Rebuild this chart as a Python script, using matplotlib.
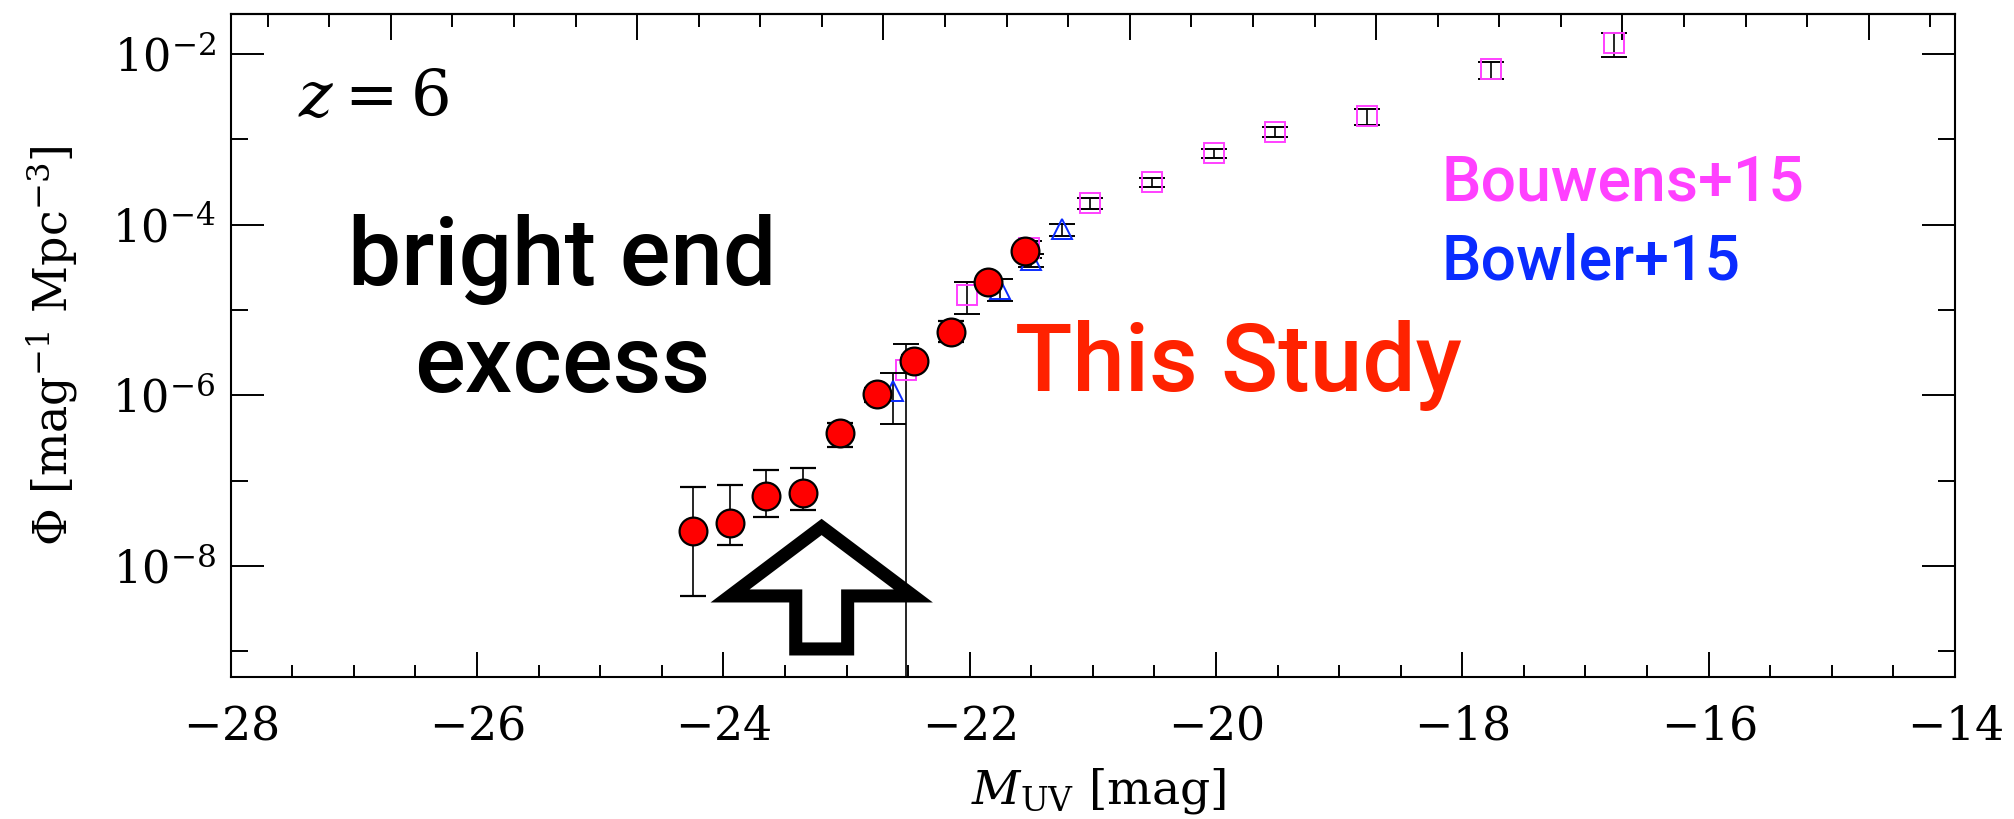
import matplotlib.pyplot as plt
from matplotlib.ticker import FixedLocator, MultipleLocator, NullFormatter
from matplotlib.patches import Polygon

plt.rcParams['font.family'] = 'DejaVu Serif'
plt.rcParams['mathtext.fontset'] = 'dejavuserif'

# UV luminosity function at z=6
study_mag = [-24.25, -23.95, -23.65, -23.35, -23.05, -22.75, -22.45, -22.15, -21.85, -21.55]
study_phi = [2.57e-8, 3.2e-8, 6.6e-8, 7.1e-8, 3.57e-7, 1.03e-6, 2.54e-6, 5.56e-6, 2.14e-5, 4.94e-5]
study_err_lo = [2.13e-8, 1.45e-8, 2.85e-8, 2.57e-8, 1.1e-7, 2.0e-7, 4.0e-7, 1.32e-6, 2.0e-6, 5.0e-6]
study_err_hi = [5.75e-8, 5.65e-8, 6.7e-8, 6.9e-8, 1.1e-7, 2.0e-7, 4.0e-7, 1.9e-6, 2.0e-6, 5.0e-6]

bouwens_mag = [-22.52, -22.02, -21.52, -21.02, -20.52, -20.02, -19.52, -18.77, -17.77, -16.77]
bouwens_phi = [2.0e-6, 1.5e-5, 5.3e-5, 1.78e-4, 3.16e-4, 6.85e-4, 1.23e-3, 1.87e-3, 6.6e-3, 1.35e-2]
bouwens_err = [2.0e-6, 6.0e-6, 1.2e-5, 2.5e-5, 3.9e-5, 8.5e-5, 1.5e-4, 4.0e-4, 1.5e-3, 4.3e-3]

bowler_mag = [-22.625, -21.75, -21.5, -21.25]
bowler_phi = [1.13e-6, 1.78e-5, 3.85e-5, 8.8e-5]
bowler_err = [6.7e-7, 5.0e-6, 6.4e-6, 1.4e-5]

# apparent magnitude offset for the top axis
DM = 46.7

fig = plt.figure(figsize=(20.15, 8.19), dpi=100)
ax = fig.add_axes([0.1145, 0.1738, 0.8557, 0.8091])

ax.errorbar(bouwens_mag, bouwens_phi, yerr=[bouwens_err, bouwens_err], fmt='s', ms=14,
            mfc='none', mec='#FF40FF', mew=1.4, ecolor='black', elinewidth=1.2,
            capsize=9.5, capthick=1.2, zorder=3)
ax.errorbar(bowler_mag, bowler_phi, yerr=[bowler_err, bowler_err], fmt='^', ms=14,
            mfc='none', mec='#0A2BFF', mew=1.4, ecolor='black', elinewidth=1.2,
            capsize=9.5, capthick=1.2, zorder=4)
ax.errorbar(study_mag, study_phi, yerr=[study_err_lo, study_err_hi], fmt='o', ms=20,
            mfc='red', mec='black', mew=1.6, ecolor='black', elinewidth=1.2,
            capsize=9.5, capthick=1.2, zorder=5)

ax.set_yscale('log')
ax.set_xlim(-28, -14)
ax.set_ylim(10**-9.30, 10**-1.53)

ax.xaxis.set_major_locator(MultipleLocator(2))
ax.xaxis.set_minor_locator(MultipleLocator(0.5))
ax.yaxis.set_major_locator(FixedLocator([1e-8, 1e-6, 1e-4, 1e-2]))
ax.yaxis.set_minor_locator(FixedLocator([1e-9, 1e-7, 1e-5, 1e-3]))
ax.yaxis.set_minor_formatter(NullFormatter())
ax.xaxis.set_major_formatter(plt.FuncFormatter(lambda v, p: '$-%d$' % abs(v)))

ax.tick_params(axis='x', which='both', direction='in', top=False, width=1.4, labelsize=33, pad=20)
ax.tick_params(axis='x', which='major', length=18)
ax.tick_params(axis='x', which='minor', length=8.6)
ax.tick_params(axis='y', which='both', direction='in', right=True, width=1.4, labelsize=32, pad=11)
ax.tick_params(axis='y', which='major', length=24)
ax.tick_params(axis='y', which='minor', length=12)
for s in ax.spines.values():
    s.set_linewidth(1.5)

top = ax.secondary_xaxis('top', functions=(lambda m: m + DM, lambda m: m - DM))
top.xaxis.set_major_locator(MultipleLocator(2))
top.xaxis.set_minor_locator(MultipleLocator(0.5))
top.tick_params(which='both', direction='in', width=1.4, labeltop=False)
top.tick_params(which='major', length=19)
top.tick_params(which='minor', length=9)
top.spines['top'].set_linewidth(1.5)

fig.text(0.5454, 0.034, r'$M_{\rm UV}$ [mag]', ha='center', va='center', fontsize=34)
fig.text(0.026, 0.578, r'$\Phi$ [mag$^{-1}$ Mpc$^{-3}$]', ha='center', va='center',
         rotation=90, fontsize=33)

# annotations
ax.text(0.039, 0.846, r'$z = 6$', transform=ax.transAxes, fontsize=46, va='baseline')
sans = 'Roboto'
ax.text(0.192, 0.591, 'bright end', transform=ax.transAxes, fontsize=68, family=sans,
        weight='medium', ha='center', va='baseline')
ax.text(0.192, 0.430, 'excess', transform=ax.transAxes, fontsize=68, family=sans,
        weight='medium', ha='center', va='baseline')
ax.text(0.455, 0.4316, 'This Study', transform=ax.transAxes, fontsize=68, family=sans,
        weight='medium', color='#FF2200', va='baseline')
ax.text(0.7025, 0.719, 'Bouwens+15', transform=ax.transAxes, fontsize=45, family=sans,
        weight='medium', color='#FF40FF', va='baseline')
ax.text(0.7025, 0.5986, 'Bowler+15', transform=ax.transAxes, fontsize=45, family=sans,
        weight='medium', color='#0A2BFF', va='baseline')

# hollow up arrow pointing at the bright-end points
arrow_x = [0.3427, 0.3959, 0.3578, 0.3578, 0.3277, 0.3277, 0.2896]
arrow_y = [0.2259, 0.1218, 0.1218, 0.0418, 0.0418, 0.1218, 0.1218]
ax.add_patch(Polygon(list(zip(arrow_x, arrow_y)), closed=True, transform=ax.transAxes,
                     facecolor='none', edgecolor='black', linewidth=9.4,
                     joinstyle='miter', zorder=6))

fig.savefig('out.png', dpi=100)
